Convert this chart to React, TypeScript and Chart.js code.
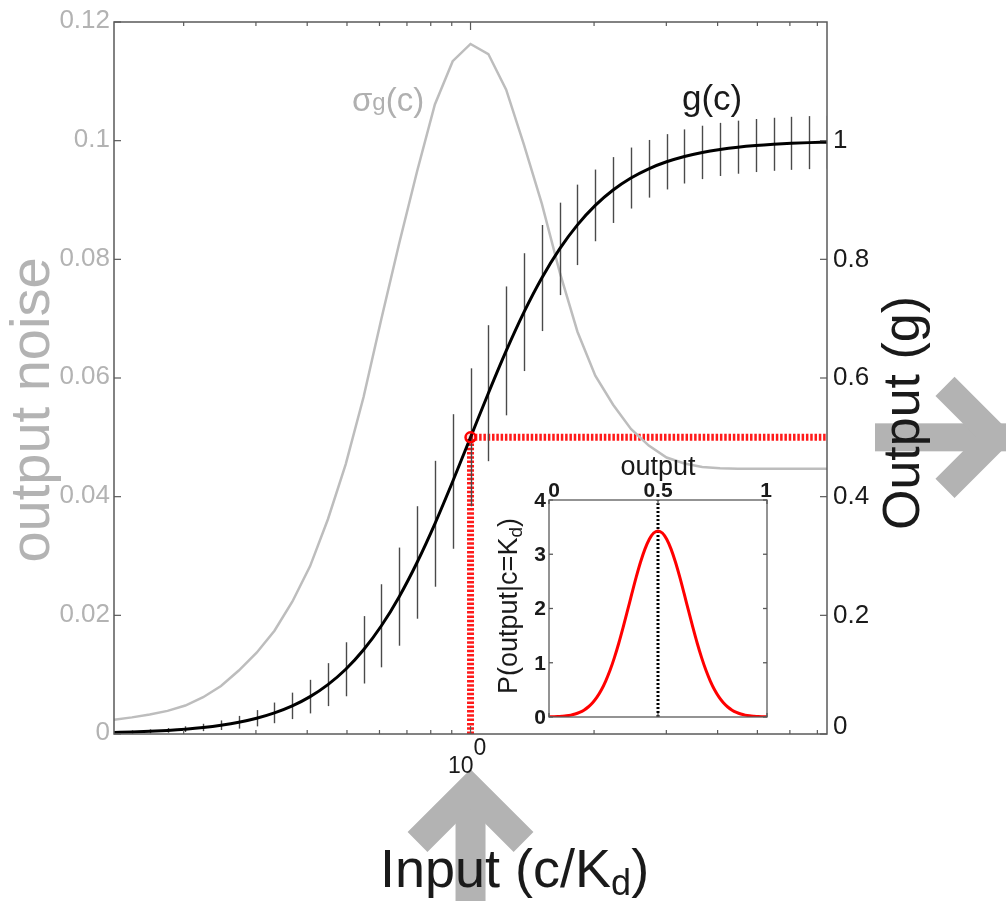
import React, { useEffect, useRef } from "react";
import { Chart, registerables } from "chart.js";
Chart.register(...registerables);

// ---------- data ----------
// concentration c/Kd, sampled on the picture's 41 columns
const concentration = [0.1353, 0.1496, 0.1653, 0.1827, 0.2019, 0.2231, 0.2466, 0.2725, 0.3012, 0.3329, 0.3679, 0.4066, 0.4493, 0.4966, 0.5488, 0.6065, 0.6703, 0.7408, 0.8187, 0.9048, 1.0, 1.1052, 1.2214, 1.3499, 1.4918, 1.6487, 1.8221, 2.0138, 2.2255, 2.4596, 2.7183, 3.0042, 3.3201, 3.6693, 4.0552, 4.4817, 4.953, 5.4739, 6.0496, 6.6859, 7.3891];
// mean output g(c) (right axis)
const gValues = [0.0025, 0.0033, 0.0045, 0.0061, 0.0082, 0.011, 0.0148, 0.0198, 0.0266, 0.0356, 0.0474, 0.063, 0.0832, 0.1091, 0.1419, 0.1824, 0.2315, 0.2891, 0.3543, 0.4256, 0.5, 0.5744, 0.6457, 0.711, 0.7685, 0.8176, 0.8581, 0.8909, 0.9168, 0.937, 0.9526, 0.9644, 0.9734, 0.9802, 0.9852, 0.989, 0.9918, 0.9939, 0.9955, 0.9967, 0.9975];
// output noise sigma_g(c) (left axis, also the error-bar half length)
const sigmaValues = [0.0024, 0.0028, 0.0033, 0.0039, 0.0048, 0.0062, 0.0081, 0.0107, 0.0137, 0.0174, 0.0223, 0.0283, 0.0362, 0.0455, 0.0568, 0.07, 0.0827, 0.0948, 0.1061, 0.1134, 0.1163, 0.1146, 0.1086, 0.0993, 0.0894, 0.0779, 0.0678, 0.0604, 0.0555, 0.0514, 0.0486, 0.0466, 0.0456, 0.045, 0.0448, 0.0447, 0.0447, 0.0447, 0.0447, 0.0447, 0.0447];

const xMin = 0.1353;
const xMax = 7.3891;
const xMinorTicks = [0.2, 0.3, 0.4, 0.5, 0.6, 0.7, 0.8, 0.9, 2, 3, 4, 5, 6, 7];
const xMajorTicks = [1];
const leftTicks = [0, 0.02, 0.04, 0.06, 0.08, 0.1, 0.12];
const leftTickLabels = ["0", "0.02", "0.04", "0.06", "0.08", "0.1", "0.12"];
const rightTicks = [0, 0.2, 0.4, 0.6, 0.8, 1];
const rightTickLabels = ["0", "0.2", "0.4", "0.6", "0.8", "1"];
const refC = 1;
const refG = 0.5;

// inset: P(output | c = Kd)
const insetOutput = [0, 0.02, 0.04, 0.06, 0.08, 0.1, 0.12, 0.14, 0.16, 0.18, 0.2, 0.22, 0.24, 0.26, 0.28, 0.3, 0.32, 0.34, 0.36, 0.38, 0.4, 0.42, 0.44, 0.46, 0.48, 0.5, 0.52, 0.54, 0.56, 0.58, 0.6, 0.62, 0.64, 0.66, 0.68, 0.7, 0.72, 0.74, 0.76, 0.78, 0.8, 0.82, 0.84, 0.86, 0.88, 0.9, 0.92, 0.94, 0.96, 0.98, 1];
const insetDensity = [0.003, 0.005, 0.008, 0.014, 0.022, 0.035, 0.055, 0.085, 0.126, 0.184, 0.262, 0.365, 0.497, 0.662, 0.86, 1.094, 1.359, 1.651, 1.959, 2.273, 2.578, 2.857, 3.095, 3.277, 3.391, 3.43, 3.391, 3.277, 3.095, 2.857, 2.578, 2.273, 1.959, 1.651, 1.359, 1.094, 0.86, 0.662, 0.497, 0.365, 0.262, 0.184, 0.126, 0.085, 0.055, 0.035, 0.022, 0.014, 0.008, 0.005, 0.003];
const insetXTicks = [0, 0.5, 1];
const insetXTickLabels = ["0", "0.5", "1"];
const insetYTicks = [0, 1, 2, 3, 4];
const insetYTickLabels = ["0", "1", "2", "3", "4"];
const insetMarker = 0.5;

const FAMILY = '"Liberation Sans", Arial, Helvetica, sans-serif';
const GRAY_TEXT = "#b3b3b3";
const AXIS = "#5a5a5a";
const ARROW = "#b3b3b3";

type Run = { t: string; size: number; weight?: string; dy?: number };

function drawRuns(
  ctx: CanvasRenderingContext2D,
  runs: Run[],
  x: number,
  y: number,
  align: "left" | "center" | "right",
  color: string,
  rotate = 0
) {
  ctx.save();
  ctx.translate(x, y);
  if (rotate) ctx.rotate(rotate);
  ctx.fillStyle = color;
  ctx.textBaseline = "alphabetic";
  ctx.textAlign = "left";
  const widths = runs.map((r) => {
    ctx.font = `${r.weight || "normal"} ${r.size}px ${FAMILY}`;
    return ctx.measureText(r.t).width;
  });
  const total = widths.reduce((s, w) => s + w, 0);
  let cx = align === "left" ? 0 : align === "center" ? -total / 2 : -total;
  runs.forEach((r, i) => {
    ctx.font = `${r.weight || "normal"} ${r.size}px ${FAMILY}`;
    ctx.fillText(r.t, cx, r.dy || 0);
    cx += widths[i];
  });
  ctx.restore();
}

function line(ctx: CanvasRenderingContext2D, x1: number, y1: number, x2: number, y2: number) {
  ctx.beginPath();
  ctx.moveTo(x1, y1);
  ctx.lineTo(x2, y2);
  ctx.stroke();
}

const GRAY_INDEX = 2;

const mainDecor = {
  id: "mainDecor",
  afterDatasetDraw(chart: any, args: any) {
    if (args.index !== GRAY_INDEX) return;
    const ctx = chart.ctx as CanvasRenderingContext2D;
    const a = chart.chartArea;
    const xs = chart.scales.x;
    const yR = chart.scales.yR;
    ctx.save();
    ctx.beginPath();
    ctx.rect(a.left, a.top, a.right - a.left, a.bottom - a.top);
    ctx.clip();
    ctx.strokeStyle = "#4a4a4a";
    ctx.lineWidth = 1.4;
    concentration.forEach((c, i) => {
      const px = Math.round(xs.getPixelForValue(c)) + 0.5;
      line(ctx, px, yR.getPixelForValue(gValues[i] - sigmaValues[i]), px, yR.getPixelForValue(gValues[i] + sigmaValues[i]));
    });
    ctx.restore();
  },
  afterDraw(chart: any) {
    const ctx = chart.ctx as CanvasRenderingContext2D;
    const a = chart.chartArea;
    const xs = chart.scales.x;
    const yL = chart.scales.yL;
    const yR = chart.scales.yR;

    // gray arrows
    ctx.save();
    ctx.fillStyle = ARROW;
    ctx.strokeStyle = ARROW;
    ctx.lineCap = "butt";
    ctx.lineJoin = "miter";
    // up arrow (input)
    const ax = xs.getPixelForValue(refC);
    ctx.fillRect(ax - 15, 790, 30, 120);
    ctx.lineWidth = 28;
    ctx.beginPath();
    ctx.moveTo(ax - 53, 842);
    ctx.lineTo(ax, 789);
    ctx.lineTo(ax + 53, 842);
    ctx.stroke();
    // right arrow (output)
    const ay = yR.getPixelForValue(refG);
    ctx.fillRect(875, ay - 14, 140, 28);
    ctx.lineWidth = 27;
    ctx.beginPath();
    ctx.moveTo(945, ay - 51);
    ctx.lineTo(996, ay);
    ctx.lineTo(945, ay + 51);
    ctx.stroke();
    ctx.restore();

    // axes box
    ctx.save();
    ctx.strokeStyle = AXIS;
    ctx.lineWidth = 1.5;
    ctx.strokeRect(a.left, a.top, a.right - a.left, a.bottom - a.top);
    ctx.lineWidth = 1.2;
    xMinorTicks.forEach((t) => {
      const px = xs.getPixelForValue(t);
      line(ctx, px, a.bottom, px, a.bottom - 4);
      line(ctx, px, a.top, px, a.top + 4);
    });
    xMajorTicks.forEach((t) => {
      const px = xs.getPixelForValue(t);
      line(ctx, px, a.bottom, px, a.bottom - 8);
      line(ctx, px, a.top, px, a.top + 8);
    });
    leftTicks.forEach((v) => {
      const py = yL.getPixelForValue(v);
      line(ctx, a.left, py, a.left + 7, py);
    });
    rightTicks.forEach((v) => {
      const py = yR.getPixelForValue(v);
      line(ctx, a.right, py, a.right - 7, py);
    });
    ctx.restore();

    // tick labels
    ctx.save();
    ctx.textBaseline = "middle";
    ctx.font = `26px ${FAMILY}`;
    ctx.fillStyle = GRAY_TEXT;
    ctx.textAlign = "right";
    leftTicks.forEach((v, i) => {
      ctx.fillText(leftTickLabels[i], a.left - 4, yL.getPixelForValue(v) - 1);
    });
    ctx.fillStyle = "#1a1a1a";
    ctx.textAlign = "left";
    rightTicks.forEach((v, i) => {
      const py = Math.min(yR.getPixelForValue(v), a.bottom - 7);
      ctx.fillText(rightTickLabels[i], a.right + 6, py);
    });
    ctx.restore();

    // 10^0
    const p1 = xs.getPixelForValue(xMajorTicks[0]);
    drawRuns(ctx, [{ t: "10", size: 23 }], p1 + 3, a.bottom + 39, "right", "#1a1a1a");
    drawRuns(ctx, [{ t: "0", size: 23 }], p1 + 3, a.bottom + 21, "left", "#1a1a1a");

    // curve labels
    drawRuns(
      ctx,
      [
        { t: "σ", size: 33 },
        { t: "g", size: 24, dy: -1 },
        { t: "(c)", size: 33 },
      ],
      352,
      111,
      "left",
      "#b0b0b0"
    );
    drawRuns(ctx, [{ t: "g(c)", size: 35 }], 682, 110, "left", "#1a1a1a");

    // axis titles
    drawRuns(ctx, [{ t: "output noise", size: 56 }], 49, 410, "center", GRAY_TEXT, -Math.PI / 2);
    drawRuns(ctx, [{ t: "Output (g)", size: 52 }], 919, 413, "center", "#1a1a1a", -Math.PI / 2);
    drawRuns(
      ctx,
      [
        { t: "Input (c/K", size: 54 },
        { t: "d", size: 36, dy: 8 },
        { t: ")", size: 54 },
      ],
      380,
      887,
      "left",
      "#1a1a1a"
    );
  },
};

const insetDecor = {
  id: "insetDecor",
  beforeDatasetsDraw(chart: any) {
    const ctx = chart.ctx as CanvasRenderingContext2D;
    const a = chart.chartArea;
    ctx.save();
    ctx.fillStyle = "#ffffff";
    ctx.fillRect(a.left, a.top, a.right - a.left, a.bottom - a.top);
    ctx.restore();
  },
  afterDraw(chart: any) {
    const ctx = chart.ctx as CanvasRenderingContext2D;
    const a = chart.chartArea;
    const xs = chart.scales.x;
    const ys = chart.scales.y;
    ctx.save();
    ctx.strokeStyle = AXIS;
    ctx.lineWidth = 1.3;
    ctx.strokeRect(a.left, a.top, a.right - a.left, a.bottom - a.top);
    insetYTicks.forEach((v) => {
      const py = ys.getPixelForValue(v);
      line(ctx, a.left, py, a.left + 4, py);
      line(ctx, a.right, py, a.right - 4, py);
    });
    insetXTicks.forEach((v) => {
      const px = xs.getPixelForValue(v);
      line(ctx, px, a.top, px, a.top + 4);
      line(ctx, px, a.bottom, px, a.bottom - 4);
    });
    ctx.restore();

    ctx.save();
    ctx.fillStyle = "#1a1a1a";
    ctx.font = `bold 21px ${FAMILY}`;
    ctx.textAlign = "right";
    ctx.textBaseline = "middle";
    insetYTicks.forEach((v, i) => {
      ctx.fillText(insetYTickLabels[i], a.left - 3, ys.getPixelForValue(v) + 1);
    });
    ctx.textAlign = "center";
    ctx.textBaseline = "alphabetic";
    insetXTicks.forEach((v, i) => {
      let px = xs.getPixelForValue(v);
      if (i === 0) px += 5;
      if (i === insetXTicks.length - 1) px -= 1;
      ctx.fillText(insetXTickLabels[i], px, a.top - 3);
    });
    ctx.restore();

    drawRuns(ctx, [{ t: "output", size: 27 }], (a.left + a.right) / 2, a.top - 25, "center", "#1a1a1a");
    drawRuns(
      ctx,
      [
        { t: "P(output|c=K", size: 27 },
        { t: "d", size: 19, dy: 5 },
        { t: ")", size: 27 },
      ],
      a.left - 32,
      606 - 440,
      "center",
      "#1a1a1a",
      -Math.PI / 2
    );
  },
};

export default function App() {
  const mainRef = useRef<HTMLCanvasElement>(null);
  const insetRef = useRef<HTMLCanvasElement>(null);

  useEffect(() => {
    const main = new Chart(mainRef.current as HTMLCanvasElement, {
      type: "line",
      data: {
        datasets: [
          {
            data: [
              { x: refC, y: refG },
              { x: xMax, y: refG },
            ],
            borderColor: "#ff1a1a",
            borderWidth: 7,
            borderDash: [2.5, 1.8],
            pointRadius: 0,
            yAxisID: "yR",
            order: 10,
          },
          {
            data: [
              { x: refC, y: 0 },
              { x: refC, y: refG },
            ],
            borderColor: "#ff1a1a",
            borderWidth: 7,
            borderDash: [2.5, 1.8],
            pointRadius: 0,
            yAxisID: "yR",
            order: 9,
          },
          {
            data: concentration.map((c, i) => ({ x: c, y: sigmaValues[i] })),
            borderColor: "#bdbdbd",
            borderWidth: 2.5,
            pointRadius: 0,
            tension: 0,
            yAxisID: "yL",
            order: 8,
          },
          {
            data: concentration.map((c, i) => ({ x: c, y: gValues[i] })),
            borderColor: "#000000",
            borderWidth: 3,
            pointRadius: 0,
            cubicInterpolationMode: "monotone",
            yAxisID: "yR",
            order: 5,
          },
          {
            data: [{ x: refC, y: refG }],
            showLine: false,
            pointRadius: 5,
            pointBorderWidth: 2.5,
            pointBorderColor: "#ff0000",
            pointBackgroundColor: "rgba(255,0,0,0.15)",
            yAxisID: "yR",
            order: 1,
          },
        ],
      } as any,
      options: {
        responsive: false,
        animation: false,
        devicePixelRatio: 1,
        events: [],
        layout: { padding: { left: 114, top: 22, right: 179, bottom: 167 } },
        plugins: { legend: { display: false }, tooltip: { enabled: false } },
        scales: {
          x: { type: "logarithmic", display: false, min: xMin, max: xMax },
          yL: { type: "linear", display: false, position: "left", min: 0, max: 0.12 },
          yR: { type: "linear", display: false, position: "right", min: 0, max: 1.2 },
        },
      } as any,
      plugins: [mainDecor],
    });

    const inset = new Chart(insetRef.current as HTMLCanvasElement, {
      type: "line",
      data: {
        datasets: [
          {
            data: insetOutput.map((x, i) => ({ x, y: insetDensity[i] })),
            borderColor: "#ff0000",
            borderWidth: 3,
            pointRadius: 0,
            cubicInterpolationMode: "monotone",
            order: 1,
          },
          {
            data: [
              { x: insetMarker, y: 0 },
              { x: insetMarker, y: 4 },
            ],
            borderColor: "#000000",
            borderWidth: 3,
            borderDash: [2, 2],
            pointRadius: 0,
            order: 2,
          },
        ],
      } as any,
      options: {
        responsive: false,
        animation: false,
        devicePixelRatio: 1,
        events: [],
        layout: { padding: { left: 79, top: 60, right: 33, bottom: 23 } },
        plugins: { legend: { display: false }, tooltip: { enabled: false } },
        scales: {
          x: { type: "linear", display: false, min: 0, max: 1 },
          y: { type: "linear", display: false, min: 0, max: 4 },
        },
      } as any,
      plugins: [insetDecor],
    });

    return () => {
      main.destroy();
      inset.destroy();
    };
  }, []);

  return (
    <div style={{ position: "fixed", left: 0, top: 0, width: 1006, height: 901, background: "#ffffff", overflow: "hidden" }}>
      <canvas ref={mainRef} width={1006} height={901} style={{ position: "absolute", left: 0, top: 0, width: 1006, height: 901 }} />
      <canvas ref={insetRef} width={330} height={300} style={{ position: "absolute", left: 470, top: 440, width: 330, height: 300 }} />
    </div>
  );
}
